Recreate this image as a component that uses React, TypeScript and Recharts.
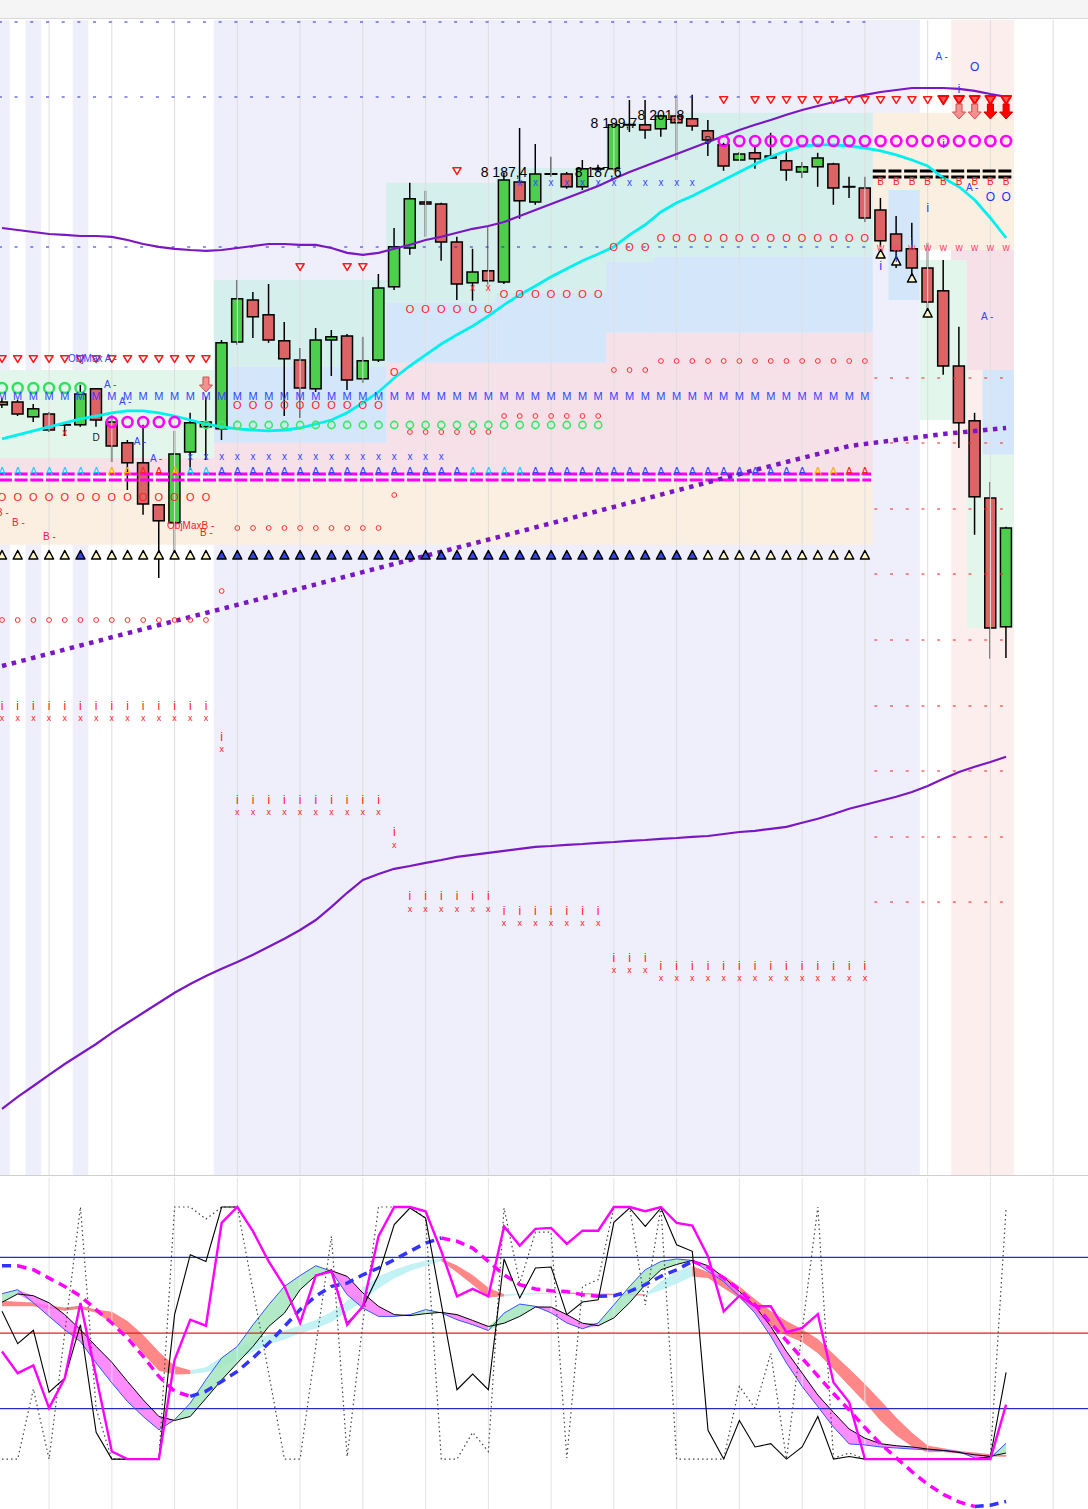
import React from "react";
import {
  Area,
  Bar,
  ComposedChart,
  Line,
  ReferenceArea,
  ReferenceLine,
  Scatter,
  XAxis,
  YAxis,
} from "recharts";

const FONT = "'Liberation Sans', Arial, sans-serif";
const W = 1088;
const X_DOMAIN: [number, number] = [-0.128, 69.22];
const P_DOMAIN: [number, number] = [7936.75, 8225.5];
const O_DOMAIN: [number, number] = [-19.8, 111.5];

// ---- price candles (index 0..64)
const openP = [
  8130.0, 8130.0, 8126.3, 8127.0, 8124.3, 8124.3, 8133.3, 8125.0, 8119.8, 8114.8,
  8104.3, 8099.8, 8117.5, 8123.8, 8123.3, 8145.0, 8155.5, 8151.8, 8145.3, 8140.5,
  8133.3, 8145.5, 8146.5, 8135.8, 8140.5, 8158.8, 8168.5, 8180.0, 8179.5, 8170.0,
  8159.8, 8162.8, 8160.0, 8185.0, 8180.0, 8186.8, 8187.0, 8183.8, 8188.0, 8188.3,
  8199.3, 8199.3, 8198.3, 8201.5, 8200.8, 8197.8, 8194.3, 8190.5, 8192.3, 8191.5,
  8190.3, 8187.5, 8188.8, 8189.5, 8183.8, 8183.5, 8178.0, 8172.0, 8168.3, 8163.5,
  8157.8, 8139.0, 8125.3, 8106.0, 8073.8,
];
const highP = [
  8131.0, 8130.5, 8129.5, 8127.5, 8124.5, 8134.3, 8133.5, 8126.8, 8120.5, 8124.3,
  8104.5, 8122.8, 8127.3, 8131.3, 8145.5, 8160.5, 8157.5, 8159.5, 8150.0, 8143.5,
  8148.5, 8148.0, 8147.0, 8146.3, 8162.0, 8173.5, 8184.8, 8182.8, 8179.8, 8171.3,
  8168.3, 8173.8, 8187.4, 8198.5, 8194.5, 8191.3, 8187.5, 8190.5, 8189.3, 8199.7,
  8205.5, 8205.5, 8201.8, 8206.8, 8206.8, 8200.5, 8194.8, 8192.5, 8193.8, 8197.3,
  8193.0, 8190.0, 8192.3, 8189.8, 8186.3, 8186.3, 8181.0, 8176.5, 8174.8, 8169.8,
  8165.5, 8148.8, 8127.3, 8110.0, 8098.8,
];
const lowP = [
  8128.5, 8126.5, 8125.0, 8122.5, 8121.5, 8123.8, 8123.8, 8115.0, 8108.0, 8101.8,
  8086.0, 8092.3, 8113.0, 8115.5, 8120.5, 8144.3, 8146.0, 8144.8, 8126.5, 8126.0,
  8132.5, 8136.5, 8133.0, 8134.8, 8140.0, 8158.0, 8166.8, 8171.3, 8165.3, 8155.5,
  8155.3, 8159.3, 8159.5, 8175.8, 8179.3, 8186.3, 8183.3, 8183.0, 8187.5, 8187.8,
  8197.5, 8195.8, 8196.3, 8190.5, 8197.8, 8191.5, 8187.8, 8190.3, 8188.3, 8190.8,
  8185.3, 8186.0, 8183.8, 8179.3, 8181.0, 8175.0, 8168.8, 8163.5, 8160.0, 8151.0,
  8136.8, 8118.5, 8096.8, 8065.8, 8066.0,
];
const closeP = [
  8129.3, 8127.0, 8128.3, 8123.0, 8124.0, 8132.0, 8125.5, 8119.0, 8114.8, 8104.5,
  8100.3, 8117.0, 8124.8, 8125.0, 8144.8, 8155.8, 8151.3, 8145.5, 8140.8, 8133.5,
  8145.5, 8146.3, 8135.5, 8140.3, 8158.5, 8168.8, 8180.8, 8179.5, 8170.0, 8159.5,
  8162.5, 8160.3, 8185.5, 8180.3, 8187.0, 8187.0, 8183.8, 8188.3, 8188.3, 8199.3,
  8199.0, 8198.0, 8201.5, 8199.8, 8199.0, 8195.5, 8189.0, 8192.0, 8190.8, 8191.0,
  8188.0, 8188.8, 8191.0, 8183.5, 8183.5, 8176.0, 8170.3, 8167.8, 8163.5, 8155.0,
  8139.0, 8124.8, 8106.3, 8073.5, 8098.5,
];

// ---- price overlays
const bandUpper = [
  8173.5, 8173.0, 8172.5, 8172.0, 8171.8, 8171.5, 8171.5, 8171.3, 8170.5, 8169.5,
  8168.8, 8168.3, 8168.0, 8167.8, 8168.0, 8168.5, 8169.0, 8169.5, 8169.5, 8169.3,
  8169.3, 8168.5, 8167.3, 8166.8, 8167.3, 8168.3, 8169.3, 8170.5, 8171.3, 8172.3,
  8173.3, 8174.0, 8175.0, 8176.5, 8178.0, 8179.5, 8181.0, 8182.5, 8184.0, 8185.8,
  8187.5, 8189.0, 8190.5, 8192.0, 8193.5, 8195.0, 8196.5, 8198.0, 8199.3, 8200.5,
  8201.8, 8203.0, 8204.0, 8205.0, 8206.0, 8206.8, 8207.5, 8208.0, 8208.5, 8208.5,
  8208.5, 8208.3, 8207.8, 8207.0, 8206.3,
];
const bandLower = [
  7953.3, 7956.3, 7959.0, 7961.8, 7964.5, 7967.0, 7969.5, 7972.3, 7974.8, 7977.3,
  7979.8, 7982.3, 7984.5, 7986.5, 7988.3, 7990.0, 7991.8, 7993.8, 7995.8, 7998.0,
  8000.5, 8003.8, 8007.3, 8010.5, 8012.0, 8013.3, 8014.0, 8014.8, 8015.5, 8016.3,
  8016.8, 8017.3, 8017.8, 8018.3, 8018.8, 8019.0, 8019.3, 8019.5, 8019.8, 8020.0,
  8020.3, 8020.5, 8020.8, 8021.0, 8021.3, 8021.5, 8022.0, 8022.5, 8022.8, 8023.3,
  8023.8, 8024.8, 8025.8, 8027.0, 8028.3, 8029.3, 8030.3, 8031.3, 8032.5, 8034.0,
  8035.8, 8037.5, 8038.8, 8040.0, 8041.3,
];
const avgCyan = [
  8120.8, 8121.8, 8122.8, 8123.8, 8124.8, 8125.8, 8126.5, 8127.3, 8127.8, 8127.8,
  8127.3, 8126.5, 8125.5, 8124.5, 8123.8, 8123.3, 8123.0, 8122.8, 8123.0, 8123.5,
  8124.5, 8125.5, 8127.3, 8129.8, 8132.5, 8136.0, 8139.0, 8141.8, 8144.5, 8146.8,
  8149.0, 8151.5, 8154.3, 8156.8, 8159.0, 8161.3, 8163.3, 8165.3, 8167.0, 8168.8,
  8171.8, 8174.3, 8177.5, 8179.8, 8181.5, 8183.5, 8185.5, 8187.5, 8189.5, 8191.3,
  8192.8, 8194.0, 8194.3, 8194.3, 8194.0, 8193.5, 8192.8, 8191.8, 8190.5, 8189.0,
  8186.0, 8183.8, 8180.5, 8176.0, 8171.0,
];
// dotted trend line knots [index, price]
const trendKnots = [
  [0, 8064.0], [8, 8072.2], [16, 8080.3], [24, 8088.5], [32, 8096.6],
  [40, 8104.8], [48, 8113.0], [54, 8119.0], [60, 8122.0], [64, 8123.5],
];

// ---- background bands / zones: [x1, x2] or [x1, x2, yLow, yHigh]
const lavenderBands = [[-0.5, 0.5], [1.5, 2.5], [4.5, 5.5], [13.5, 58.5]];
const roseBands = [[60.5, 64.5]];
const mintZones = [[-0.5, 13.5, 8116, 8138], [58.5, 61.5, 8125.5, 8165.5], [61.5, 64.5, 8073.5, 8116.8]];
const pinkZones = [
  [-0.5, 13.5, 8112, 8116], [13.5, 24.5, 8112, 8119.8], [24.5, 38.5, 8112, 8139.8],
  [38.5, 55.5, 8112, 8147.3], [60.5, 64.5, 8138, 8168],
];
const beigeZones = [[-0.5, 55.5, 8094.3, 8110.5], [55.5, 64.5, 8168, 8202.3]];
const blueZones = [
  [13.5, 24.5, 8119.8, 8138.8], [24.5, 31.5, 8139.8, 8154.8], [31.5, 38.5, 8139.8, 8157.3],
  [38.5, 41.5, 8147.3, 8165], [41.5, 55.5, 8147.3, 8166.3], [56.5, 58.5, 8155.5, 8183],
  [62.5, 64.5, 8116.8, 8138],
];
const tealZones = [
  [13.5, 24.5, 8138.8, 8160.5], [24.5, 31.5, 8154.8, 8184.8], [31.5, 38.5, 8157.3, 8188.5],
  [38.5, 41.5, 8165, 8200], [41.5, 55.5, 8166.3, 8202.3],
];
const gridX = [3, 7, 11, 15, 19, 23, 27, 31, 35, 39, 43, 47, 51, 55, 59, 63, 67];

// horizontal dashed levels: [price, from, to]
const blueDash = [[8225, -0.2, 55.3], [8206.25, -0.2, 55.3], [8168.75, -0.2, 55.3]];
const redDash = [8136, 8119.75, 8103.25, 8087, 8070.5, 8054, 8037.75, 8021.25, 8005];
const magentaBars = [8112, 8110.5];
const blackBars = [8187.75, 8186.25];

// ---- marker rows: [price, firstIndex, lastIndex]
const redTriDown = [[8140.75, 0, 13], [8163.75, 19, 19], [8163.75, 22, 23], [8187.75, 29, 29], [8205.5, 46, 46], [8205.5, 48, 59]];
const boldTriDown = [[8205.5, 60, 64]];
const pinkArrows = [[8134.25, 13, 13], [8202.5, 61, 62]];
const redArrows = [[8202.5, 63, 64]];
const greenRings = [[8133.5, 0, 5]];
const blueM = [[8131.5, 0, 55]];
const magentaRings = [[8125.0, 7, 11], [8195.25, 46, 64]];
const greenSmall = [[8124.25, 13, 38]];
const redO = [[8106.25, 0, 13], [8129.25, 15, 24], [8137.5, 25, 25], [8153.25, 26, 31], [8157, 32, 38], [8168.75, 39, 41], [8171, 42, 55]];
const redSmall = [[8075.5, 0, 13], [8082.75, 14, 14], [8098.5, 15, 24], [8106.75, 25, 25], [8122.5, 26, 31], [8126.5, 32, 38], [8138, 39, 41], [8140.25, 42, 55]];
const blueX = [[8116.5, 12, 28], [8185, 33, 44]];
const redX = [[8158.75, 30, 31], [8122.5, 4, 4]];
const aCyan = [[8112.75, 0, 6], [8112.75, 12, 13], [8112.75, 30, 33]];
const aOrange = [[8112.75, 7, 8], [8112.75, 11, 11], [8112.75, 52, 53]];
const aRed = [[8112.75, 9, 10], [8112.75, 54, 55]];
const aBlue = [[8112.75, 14, 29], [8112.75, 34, 51]];
const upTriBlue = [[8091.75, 5, 5], [8091.75, 14, 44]];
const upTriOpen = [[8091.75, 0, 4], [8091.75, 6, 13], [8091.75, 45, 55], [8167, 56, 56], [8165.25, 57, 57], [8161, 58, 58], [8152.25, 59, 59]];
const redB = [[8185.25, 56, 64]];
const pinkW = [[8168.75, 56, 64]];
const blueO = [[8181.25, 63, 64], [8213.75, 62, 62]];
const blueI = [[8164.25, 56, 56], [8166.25, 57, 57], [8170, 58, 58], [8178.75, 59, 59], [8194.75, 60, 60], [8208.5, 61, 61]];
const redI = [[8054, 0, 13], [8046.25, 14, 14], [8030.5, 15, 24], [8022.5, 25, 25], [8006.5, 26, 31], [8002.75, 32, 38], [7991, 39, 41], [7989, 42, 55]];
const redIx = [[8051, 0, 13], [8043.25, 14, 14], [8027.5, 15, 24], [8019.25, 25, 25], [8003.25, 26, 31], [7999.75, 32, 38], [7988, 39, 41], [7986, 42, 55]];
const letterD = [[8121.25, 6, 6], [8195.5, 45, 45]];

// text notes: [index, price, text]
const priceTags: [number, number, string][] = [[32, 8187.4, "8 187,4"], [38, 8187.6, "8 187,6"], [39, 8199.7, "8 199,7"], [42, 8201.8, "8 201,8"]];
const blueNotes: [number, number, string][] = [
  [4.21, 8141, "ObjMax A -"], [6.5, 8134.5, "A -"], [7.46, 8130.25, "A -"], [8.4, 8120.25, "A -"],
  [9.43, 8116, "A -"], [59.5, 8216.5, "A -"], [61.45, 8183.75, "A -"], [62.4, 8151.5, "A -"],
];
const redNotes: [number, number, string][] = [
  [-0.38, 8102.5, "B -"], [0.64, 8100, "B -"], [2.61, 8096.5, "B -"], [10.52, 8099.25, "ObjMaxB -"], [12.62, 8097.5, "B -"],
];

// ---- oscillator (0..100)
const oscMagenta = [
  42.7, 34.1, 37.2, 20.2, 32.1, 61.9, 32.8, 3, 0, 0,
  0, 39.4, 55.3, 52.9, 93.7, 100, 90.3, 78.4, 68.5, 54,
  72.8, 74.5, 53.3, 60.6, 88.4, 100, 100, 98.3, 82.5, 64.6,
  67.5, 64.6, 92.3, 84.7, 91.3, 91.7, 85.4, 90.6, 90.6, 100,
  100, 98.3, 100, 93.7, 92.6, 80.4, 58.6, 64.8, 60.6, 60.6,
  50.3, 52, 57.5, 30.4, 22.5, 0, 0, 0, 0, 0,
  0, 0, 0, 0, 21.6,
];
const oscBlack = [
  58.6, 45.8, 51.1, 26.5, 32.1, 53.3, 10.6, 0, 0, 0,
  0, 57.3, 81.1, 78.4, 100, 100, 90.3, 78.4, 68.5, 54,
  72.8, 75.1, 54, 60.3, 73.1, 93, 99.6, 95.6, 61.6, 27.5,
  33.7, 27.5, 79.4, 63.9, 75.8, 76.2, 57.3, 62.3, 63.2, 93.9,
  99.6, 92.3, 99.6, 85, 82.4, 11.4, 0, 15.3, 4.8, 6.1,
  0, 4.8, 16.9, 0, 1, 0, 0, 0, 0, 0,
  0, 0, 0, 1, 34.4,
];
const oscDotted = [
  0, 0, 27.8, 0, 50, 100, 20, 0, 0, 0,
  0, 100, 100, 95.2, 100, 100, 67, 34, 0, 0,
  44.7, 88.4, 1, 54, 100, 100, 100, 95.6, 0, 0,
  10.6, 3, 99.6, 69.8, 90, 90, 0.4, 68.5, 71.2, 100,
  100, 61.2, 100, 0, 0, 0, 0, 28.8, 20.2, 42,
  0, 51, 100, 0.4, 2.4, 0, 0, 0, 0, 0,
  0, 0, 0, 1, 99.6,
];
const ribbonBlue = [
  65.6, 67.2, 62, 56.6, 51.3, 46.6, 38.1, 30.2, 22.8, 16.9,
  11.6, 15.6, 22.2, 31.5, 40.1, 44.7, 53.3, 61.2, 68.5, 72.8,
  76.7, 74.5, 65.2, 59.9, 56.6, 56.6, 57.3, 59.3, 58, 55.3,
  53.3, 51, 57.9, 61.5, 60.6, 58, 54, 51.7, 54, 61.2,
  68.5, 75.1, 78.4, 79.4, 78.8, 74.5, 70.4, 64.5, 57.9, 48.7,
  38.1, 28.8, 20.8, 12.7, 6.0, 5.6, 4.8, 4.4, 4.0, 3.7,
  3.4, 3.0, 0.4, 0.4, 6.3,
];
const ribbonBlack = [
  62.2, 65.5, 64.8, 62, 57.3, 51.3, 44.7, 38.4, 30.8, 23.5,
  16.9, 15.3, 16.9, 24.1, 31.4, 38.1, 44.7, 52.6, 57.9, 67.2,
  72.8, 74.7, 72.5, 65.9, 60.6, 57.3, 56.9, 57.7, 58.2, 57.3,
  55, 52.6, 53.9, 56.6, 60.3, 60.3, 57.3, 53.9, 52.9, 56,
  62, 69.2, 75.1, 77.2, 78.8, 76.7, 72.2, 66.5, 60.6, 52.6,
  42.7, 34.1, 25.4, 18.5, 11.9, 8.3, 6.1, 5.3, 4.8, 4.0,
  3.4, 2.6, 1.7, 1.1, 2.4,
];
const trendUpper = [
  62.8, 62.4, 62.1, 60.9, 60.1, 60.8, 59.3, 58.4, 54.8, 49.2,
  42.6, 37.0, 35.2, 36.4, 40.6, 44.0, 47.0, 49.4, 51.0, 53.0,
  55.2, 58.4, 62.6, 68.0, 72.5, 75.1, 77.2, 78.8, 79.6, 76.8,
  73.0, 68.0, 65.4, 65.7, 66.0, 66.0, 66.1, 65.9, 65.7, 65.6,
  65.5, 65.4, 70.4, 74.5, 76.6, 74.2, 72.8, 68.6, 63.4, 58.7,
  54.8, 51.5, 47.6, 41.7, 35.8, 29.8, 23.2, 16.5, 10.4, 5.4,
  4.3, 3.2, 2.6, 1.9, 1.6,
];
const trendLower = [
  60.6, 60.6, 60.6, 59.6, 58.8, 59.6, 58.0, 54.0, 49.2, 41.8,
  35.0, 33.6, 33.8, 34.4, 36.2, 39.4, 42.6, 45.6, 47.4, 49.8,
  51.8, 54.4, 58.4, 62.6, 67.8, 71.6, 74.6, 76.7, 78.6, 74.0,
  69.2, 64.2, 64.5, 65.1, 65.4, 65.5, 65.6, 65.4, 65.2, 65.1,
  65.0, 64.9, 67.0, 69.6, 72.4, 71.8, 67.8, 63.8, 58.4, 53.0,
  49.0, 46.4, 42.0, 35.6, 29.0, 22.4, 15.2, 9.4, 5.0, 2.7,
  2.8, 2.2, 1.6, 1.0, 0.9,
];
const signalDash = [
  76.7, 76.7, 75.1, 71.8, 68.5, 64.6, 59.3, 54, 48, 40.7,
  32.8, 26.9, 24.9, 26.9, 30.8, 34.8, 40.1, 46, 52.6, 59.3,
  64.6, 68.5, 69.8, 73.1, 75.8, 79.1, 82.4, 85.7, 87.7, 86.4,
  83.7, 78.4, 73.1, 69.2, 67.5, 66.8, 66.5, 65.2, 64.6, 64.8,
  66.5, 69.2, 72.5, 75.1, 78.4, 76.2, 71.8, 67.2, 61.2, 54,
  47, 40, 33, 26, 19.5, 12.5, 6, 0.5, -5, -10,
  -14, -17, -18.8, -18.3, -16.8,
];

// ---- tables built from the arrays above
const candles = openP.map((o, i) => ({
  i,
  o,
  h: highP[i],
  l: lowP[i],
  c: closeP[i],
  range: [lowP[i], highP[i]],
  bbU: bandUpper[i],
  bbL: bandLower[i],
  ma: avgCyan[i],
  trend: trendKnots.find((k) => k[0] === i)?.[1],
}));

const expand = (rows: number[][]) =>
  rows.flatMap(([p, a, b]) => {
    const out: { i: number; p: number }[] = [];
    for (let k = a; k <= b; k++) out.push({ i: k, p });
    return out;
  });

// point k belongs to a colour if one of its two neighbouring segments has that colour
function splitBy(segA: boolean[], n: number) {
  const inA: boolean[] = [];
  const inB: boolean[] = [];
  for (let k = 0; k < n; k++) {
    const prev = k > 0 ? segA[k - 1] : undefined;
    const next = k < n - 1 ? segA[k] : undefined;
    inA.push(prev === true || next === true);
    inB.push(prev === false || next === false);
  }
  return [inA, inB];
}

const n = oscMagenta.length;
const seg = (f: (k: number) => boolean) => Array.from({ length: n - 1 }, (_, k) => f(k));
const [greenPts, pinkPts] = splitBy(seg((k) => ribbonBlue[k] - ribbonBlack[k] + ribbonBlue[k + 1] - ribbonBlack[k + 1] >= 0), n);
const [cyanPts, redPts] = splitBy(seg((k) => trendUpper[k + 1] >= trendUpper[k]), n);
const [risePts, fallPts] = splitBy(seg((k) => signalDash[k + 1] >= signalDash[k]), n);

const osc = oscMagenta.map((m, i) => {
  const lo1 = Math.min(ribbonBlue[i], ribbonBlack[i]);
  const hi1 = Math.max(ribbonBlue[i], ribbonBlack[i]);
  return {
    i,
    mag: m,
    blk: oscBlack[i],
    dot: oscDotted[i],
    rb: ribbonBlue[i],
    rk: ribbonBlack[i],
    green: greenPts[i] ? [lo1, hi1] : undefined,
    pink: pinkPts[i] ? [lo1, hi1] : undefined,
    cyan: cyanPts[i] ? [trendLower[i], trendUpper[i]] : undefined,
    red: redPts[i] ? [trendLower[i], trendUpper[i]] : undefined,
    sigUp: risePts[i] ? signalDash[i] : undefined,
    sigDown: fallPts[i] ? signalDash[i] : undefined,
  };
});

// ---- shapes
const BODY_W = 11;

function CandleShape(props: any) {
  const { x, y, width, height, payload } = props;
  if (!payload) return null;
  const { o, h, l, c } = payload;
  const top = Math.min(y, y + height);
  const hh = Math.abs(height);
  const py = (v: number) => top + ((h - v) / (h - l)) * hh;
  const cx = x + width / 2;
  const bx = cx - BODY_W / 2;
  const bTop = py(Math.max(o, c));
  const bBot = py(Math.min(o, c));
  const doji = Math.abs(c - o) < 0.4;
  return (
    <g>
      <line x1={cx} x2={cx} y1={top} y2={top + hh} stroke="#000" strokeWidth={1.5} />
      {doji ? (
        <line x1={bx - 1} x2={bx + BODY_W + 1} y1={bTop} y2={bTop} stroke="#000" strokeWidth={2} />
      ) : (
        <rect
          x={bx}
          y={bTop}
          width={BODY_W}
          height={Math.max(bBot - bTop, 1.5)}
          fill={c > o ? "#4ccf4c" : "#dd6464"}
          stroke="#000"
          strokeWidth={1.5}
        />
      )}
    </g>
  );
}

const glyph = (ch: string, color: string, size: number, weight = "normal") => (p: any) => (
  <text
    x={p.cx}
    y={p.cy}
    fill={color}
    fontSize={size}
    fontWeight={weight}
    fontFamily={FONT}
    textAnchor="middle"
    dominantBaseline="central"
  >
    {ch}
  </text>
);

const ring = (color: string, r: number, w: number) => (p: any) => (
  <circle cx={p.cx} cy={p.cy} r={r} fill="none" stroke={color} strokeWidth={w} />
);

const triDown = (stroke: string, fill: string, s: number, w: number) => (p: any) => (
  <polygon
    points={`${p.cx - s},${p.cy - s * 0.8} ${p.cx + s},${p.cy - s * 0.8} ${p.cx},${p.cy + s * 0.85}`}
    fill={fill}
    stroke={stroke}
    strokeWidth={w}
    strokeLinejoin="round"
  />
);

const triUp = (fill: string) => (p: any) => (
  <polygon
    points={`${p.cx - 4.5},${p.cy + 4} ${p.cx + 4.5},${p.cy + 4} ${p.cx},${p.cy - 4.5}`}
    fill={fill}
    stroke="#000"
    strokeWidth={1.5}
    strokeLinejoin="round"
  />
);

const arrowDown = (fill: string, stroke: string) => (p: any) => {
  const { cx, cy } = p;
  return (
    <polygon
      points={`${cx - 3},${cy - 8} ${cx + 3},${cy - 8} ${cx + 3},${cy} ${cx + 6.5},${cy} ${cx},${cy + 7} ${cx - 6.5},${cy} ${cx - 3},${cy}`}
      fill={fill}
      stroke={stroke}
      strokeWidth={1}
    />
  );
};

const note = (text: string, color: string, size: number, anchor: "start" | "middle") => (p: any) => (
  <text
    x={p.cx}
    y={p.cy}
    fill={color}
    fontSize={size}
    fontFamily={FONT}
    textAnchor={anchor}
    dominantBaseline="central"
  >
    {text}
  </text>
);

const dotsRow = (key: string, rows: number[][], shape: any) => (
  <Scatter key={key} data={expand(rows)} dataKey="p" shape={shape} isAnimationActive={false} />
);

const zoneAreas = (list: number[][], fill: string, key: string) =>
  list.map((z, k) => (
    <ReferenceArea
      key={key + k}
      x1={z[0]}
      x2={z[1]}
      y1={z.length > 2 ? z[2] : P_DOMAIN[0]}
      y2={z.length > 2 ? z[3] : P_DOMAIN[1]}
      fill={fill}
      fillOpacity={1}
      stroke="none"
      ifOverflow="hidden"
    />
  ));

const segLine = (key: string, p: number, a: number, b: number, stroke: string, width: number, dash: string) => (
  <ReferenceLine
    key={key}
    segment={[{ x: a, y: p }, { x: b, y: p }]}
    stroke={stroke}
    strokeWidth={width}
    strokeDasharray={dash}
    ifOverflow="hidden"
  />
);

export default function App() {
  return (
    <div style={{ position: "absolute", left: 0, top: 0, width: W, height: 1509, background: "#fff", overflow: "hidden" }}>
      <div style={{ position: "absolute", left: 0, top: 0, width: W, height: 18, background: "#f5f5f5", borderBottom: "1px solid #d9d9d9" }} />

      <div style={{ position: "absolute", left: 0, top: 20 }}>
        <ComposedChart width={W} height={1155} data={candles} margin={{ top: 0, right: 0, bottom: 0, left: 0 }}>
          <XAxis dataKey="i" type="number" domain={X_DOMAIN} hide allowDataOverflow />
          <YAxis type="number" domain={P_DOMAIN} hide allowDataOverflow />

          {zoneAreas(lavenderBands, "#efeefb", "lav")}
          {zoneAreas(roseBands, "#fdeeee", "rose")}
          {zoneAreas(beigeZones, "#fbefe2", "beige")}
          {zoneAreas(pinkZones, "#f6e1e8", "pink")}
          {zoneAreas(blueZones, "#d4e7fa", "blue")}
          {zoneAreas(tealZones, "#d5efed", "teal")}
          {zoneAreas(mintZones, "#e2f6ec", "mint")}

          {gridX.map((g) => (
            <ReferenceLine key={"g" + g} x={g} stroke="#dedede" strokeWidth={1} />
          ))}

          {blueDash.map(([p, a, b], k) => segLine("bd" + k, p, a, b, "#1e2ad8", 1.2, "3 12.7"))}
          {redDash.map((p, k) => segLine("rd" + k, p, 55.6, 64.4, "#ff2020", 1.2, "3 12.7"))}
          {magentaBars.map((p, k) => segLine("mb" + k, p, -0.2, 55.4, "#ff00ee", 3, "13 2.7"))}
          {blackBars.map((p, k) => segLine("kb" + k, p, 55.5, 64.5, "#000", 3, "13 2.7"))}

          <Line dataKey="bbL" stroke="#7b16c4" strokeWidth={2.2} dot={false} isAnimationActive={false} />
          <Line dataKey="trend" stroke="#7b16c4" strokeWidth={4.5} strokeDasharray="4.5 5.5" dot={false} connectNulls isAnimationActive={false} />

          <Bar dataKey="range" barSize={12} shape={CandleShape} isAnimationActive={false} />

          <Line dataKey="bbU" stroke="#7b16c4" strokeWidth={2.2} dot={false} isAnimationActive={false} />
          <Line dataKey="ma" stroke="#00f0f0" strokeWidth={2.8} dot={false} isAnimationActive={false} />

          {dotsRow("rtd", redTriDown, triDown("#ff1a1a", "#fff", 4, 1.6))}
          {dotsRow("btd", boldTriDown, triDown("#ff0000", "#ff5555", 5, 2))}
          {dotsRow("pa", pinkArrows, arrowDown("#f49090", "#d05050"))}
          {dotsRow("ra", redArrows, arrowDown("#ff0000", "#cc0000"))}
          {dotsRow("gr", greenRings, ring("#33e05a", 5, 2.4))}
          {dotsRow("bm", blueM, glyph("M", "#3344ff", 11))}
          {dotsRow("mr", magentaRings, ring("#ff00ff", 5, 2.6))}
          {dotsRow("gs", greenSmall, ring("#39e86a", 3.6, 1.6))}
          {dotsRow("ro", redO, glyph("O", "#ff2020", 11))}
          {dotsRow("rs", redSmall, ring("#ff3030", 2.4, 1))}
          {dotsRow("bx", blueX, glyph("x", "#3344ff", 10))}
          {dotsRow("rx", redX, glyph("x", "#ff2020", 10))}
          {dotsRow("ac", aCyan, glyph("A", "#19c8ff", 11))}
          {dotsRow("ao", aOrange, glyph("A", "#ffaa00", 11))}
          {dotsRow("ar", aRed, glyph("A", "#ff2020", 11))}
          {dotsRow("ab", aBlue, glyph("A", "#3344ff", 11))}
          {dotsRow("tb", upTriBlue, triUp("#3344ee"))}
          {dotsRow("to", upTriOpen, triUp("#fff6c8"))}
          {dotsRow("rb", redB, glyph("B", "#ff2020", 10))}
          {dotsRow("pw", pinkW, glyph("w", "#ff4070", 10))}
          {dotsRow("bo", blueO, glyph("O", "#2233ff", 12))}
          {dotsRow("bi", blueI, glyph("i", "#3344ff", 13))}
          {dotsRow("ri", redI, glyph("i", "#ff2020", 12))}
          {dotsRow("rix", redIx, glyph("x", "#ff2020", 9))}
          {dotsRow("ld", letterD, glyph("D", "#222", 10))}

          {priceTags.map(([i, p, t], k) => (
            <Scatter key={"pt" + k} data={[{ i, p }]} dataKey="p" shape={note(t, "#000", 14, "middle")} isAnimationActive={false} />
          ))}
          {blueNotes.map(([i, p, t], k) => (
            <Scatter key={"bn" + k} data={[{ i, p }]} dataKey="p" shape={note(t, "#3344ff", 10, "start")} isAnimationActive={false} />
          ))}
          {redNotes.map(([i, p, t], k) => (
            <Scatter key={"rn" + k} data={[{ i, p }]} dataKey="p" shape={note(t, "#ff2020", 10, "start")} isAnimationActive={false} />
          ))}
        </ComposedChart>
      </div>

      <div style={{ position: "absolute", left: 0, top: 1175, width: W, height: 1, background: "#cfcfcf" }} />

      <div style={{ position: "absolute", left: 0, top: 1178 }}>
        <ComposedChart width={W} height={331} data={osc} margin={{ top: 0, right: 0, bottom: 0, left: 0 }}>
          <XAxis dataKey="i" type="number" domain={X_DOMAIN} hide allowDataOverflow />
          <YAxis type="number" domain={O_DOMAIN} hide allowDataOverflow />
          {gridX.map((g) => (
            <ReferenceLine key={"og" + g} x={g} stroke="#e3e3e3" strokeWidth={1} />
          ))}
          <ReferenceLine y={80} stroke="#2a2ac8" strokeWidth={1.2} />
          <ReferenceLine y={50} stroke="#e02020" strokeWidth={1.2} />
          <ReferenceLine y={20} stroke="#2a2ac8" strokeWidth={1.2} />

          <Area dataKey="cyan" type="linear" stroke="none" fill="#b4eff2" fillOpacity={0.8} isAnimationActive={false} />
          <Area dataKey="red" type="linear" stroke="none" fill="#ff5f5f" fillOpacity={0.75} isAnimationActive={false} />
          <Area dataKey="green" type="linear" stroke="none" fill="#a4e6bd" fillOpacity={0.85} isAnimationActive={false} />
          <Area dataKey="pink" type="linear" stroke="none" fill="#ff70ff" fillOpacity={0.8} isAnimationActive={false} />

          <Line dataKey="rb" stroke="#3355ff" strokeWidth={1} dot={false} isAnimationActive={false} />
          <Line dataKey="rk" stroke="#000" strokeWidth={1} dot={false} isAnimationActive={false} />
          <Line dataKey="dot" stroke="#444" strokeWidth={1.2} strokeDasharray="1.5 3" dot={false} isAnimationActive={false} />
          <Line dataKey="sigUp" stroke="#3333ff" strokeWidth={3.5} strokeDasharray="9 6" dot={false} isAnimationActive={false} />
          <Line dataKey="sigDown" stroke="#ff00ff" strokeWidth={3.5} strokeDasharray="9 6" dot={false} isAnimationActive={false} />
          <Line dataKey="blk" stroke="#000" strokeWidth={1.1} dot={false} isAnimationActive={false} />
          <Line dataKey="mag" stroke="#ff00ff" strokeWidth={2.4} dot={false} isAnimationActive={false} />
        </ComposedChart>
      </div>
    </div>
  );
}
